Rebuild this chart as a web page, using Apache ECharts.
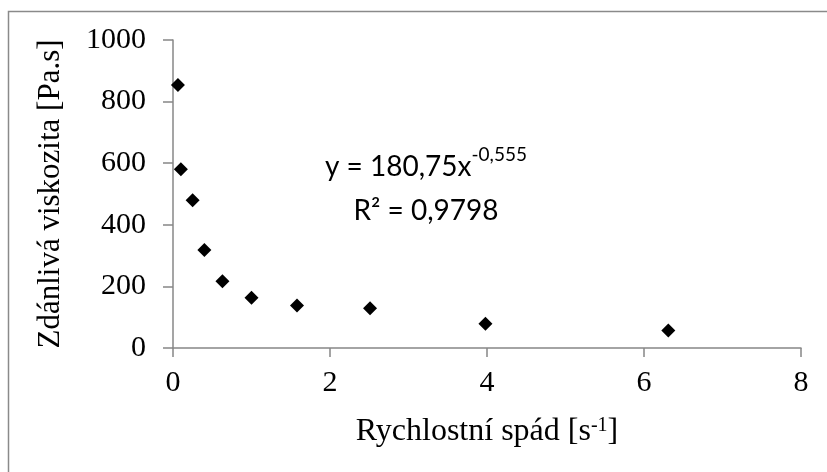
<!DOCTYPE html>
<html>
<head>
<meta charset="utf-8">
<script src="https://cdn.jsdelivr.net/npm/echarts@6/dist/echarts.min.js"></script>
<style>html,body{margin:0;padding:0;background:#fff;}#c{width:827px;height:472px;}</style>
</head>
<body>
<div id="c"></div>
<script>
const shearRate = [0.063, 0.1, 0.25, 0.4, 0.63, 1.0, 1.58, 2.51, 3.98, 6.31];
const viscosity = [854, 580, 480, 318, 217, 163, 138, 129, 79, 57];
const xTicks = [0, 2, 4, 6, 8];
const yTicks = [0, 200, 400, 600, 800, 1000];
const xTitle = 'Rychlostní spád [s{sup|-1}]';
const yTitle = 'Zdánlivá viskozita [Pa.s]';
const eqLine1 = 'y = 180,75x';
const eqExp = '-0,555';
const eqLine2 = 'R² = 0,9798';

const serif = '"Liberation Serif","Times New Roman",serif';
const sans = 'Lato, "Open Sans", sans-serif';
const axisGray = '#878787';
const chart = echarts.init(document.getElementById('c'));
chart.setOption({
  animation: false,
  backgroundColor: '#fff',
  grid: { left: 173, right: 26, top: 40, bottom: 124 },
  xAxis: {
    type: 'value', min: xTicks[0], max: xTicks[xTicks.length - 1], interval: 2,
    splitLine: { show: false },
    axisLine: { lineStyle: { color: axisGray, width: 1.5 } },
    axisTick: { show: true, inside: false, length: 9, lineStyle: { color: axisGray, width: 1.5 } },
    axisLabel: { color: '#000', fontFamily: serif, fontSize: 30, margin: 20, formatter: v => String(v) },
    name: xTitle, nameLocation: 'middle', nameGap: 68,
    nameTextStyle: { color: '#000', fontFamily: serif, fontSize: 32,
      rich: { sup: { fontFamily: serif, fontSize: 20, verticalAlign: 'top', color: '#000' } } }
  },
  yAxis: {
    type: 'value', min: yTicks[0], max: yTicks[yTicks.length - 1], interval: 200,
    splitLine: { show: false },
    axisLine: { show: true, lineStyle: { color: axisGray, width: 1.5 } },
    axisTick: { show: true, inside: false, length: 10, lineStyle: { color: axisGray, width: 1.5 } },
    axisLabel: { color: '#000', fontFamily: serif, fontSize: 30, margin: 27, formatter: v => String(v) },
    name: yTitle, nameLocation: 'middle', nameGap: 107, nameRotate: 90,
    nameTextStyle: { color: '#000', fontFamily: serif, fontSize: 31 }
  },
  series: [{
    type: 'scatter',
    symbol: 'diamond',
    symbolSize: 14,
    itemStyle: { color: '#000', opacity: 1 },
    data: shearRate.map((x, i) => [x, viscosity[i]])
  }],
  graphic: [
    { type: 'rect', left: 6, top: 9, shape: { width: 1000, height: 1000 },
      style: { fill: 'none', stroke: '#8a8a8a', lineWidth: 1.5 }, silent: true, z: -1 },
    { type: 'text', x: 426, y: 145,
      style: {
        text: '{a|' + eqLine1 + '}{s|' + eqExp + '}\n{a|' + eqLine2 + '}',
        align: 'center', verticalAlign: 'top',
        rich: {
          a: { fontFamily: sans, fontSize: 28, lineHeight: 44, fill: '#000' },
          s: { fontFamily: sans, fontSize: 19, verticalAlign: 'top', lineHeight: 30, fill: '#000' }
        }
      } }
  ]
});
</script>
</body>
</html>
